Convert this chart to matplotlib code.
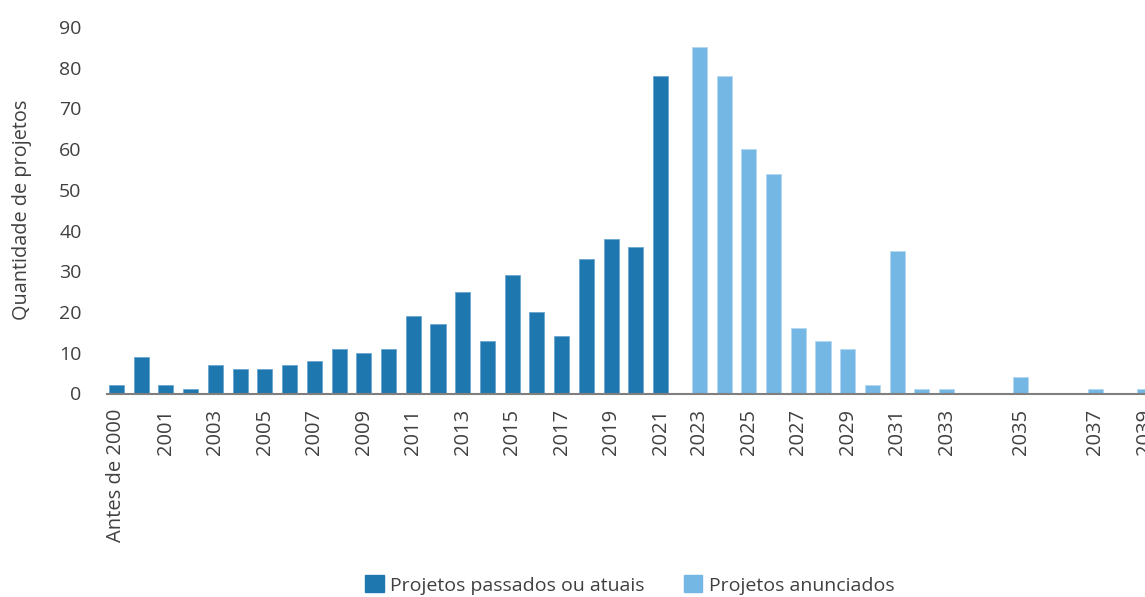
import matplotlib.pyplot as plt
from matplotlib.patches import Patch
import numpy as np

# past / current projects
past_labels = ['Antes de 2000', '2000', '2001', '2002', '2003', '2004', '2005', '2006',
               '2007', '2008', '2009', '2010', '2011', '2012', '2013', '2014', '2015',
               '2016', '2017', '2018', '2019', '2020', '2021']
past_values = [2, 9, 2, 1, 7, 6, 6, 7, 8, 11, 10, 11, 19, 17, 25, 13, 29, 20, 14, 33, 38, 36, 78]

# announced projects ('' = empty slot on the original axis)
ann_labels = ['2023', '2024', '2025', '2026', '2027', '2028', '2029', '2030', '2031',
              '2032', '2033', '2034', '', '2035', '2036', '', '2037', '2038', '2039']
ann_values = [85, 78, 60, 54, 16, 13, 11, 2, 35, 1, 1, 0, 0, 4, 0, 0, 1, 0, 1]

c_past = '#1f77b0'
c_ann = '#74b7e4'
txt = '#404040'

plt.rcParams['font.family'] = ['Open Sans', 'DejaVu Sans']

fig = plt.figure(figsize=(11.45, 5.97), dpi=100)
ax = fig.add_axes([106.6 / 1145, 1 - 393.5 / 597, 1 - 106.6 / 1145, (393.5 - 27) / 597])

gap = 1.57  # extra spacing between the two groups, in category slots
x_past = np.arange(len(past_labels))
x_ann = len(past_labels) - 1 + gap + np.arange(len(ann_labels))

ax.bar(x_past, past_values, width=0.61, color=c_past, edgecolor='#6aa6cf', linewidth=0.6)
ax.bar(x_ann, ann_values, width=0.61, color=c_ann, edgecolor='#b3d8f0', linewidth=0.6)

# tick labels: every other category, odd years
ticks = list(x_past[::2]) + [x for x, l in zip(x_ann, ann_labels) if l and int(l) % 2 == 1]
labels = list(past_labels[::2]) + [l for l in ann_labels if l and int(l) % 2 == 1]
ax.set_xticks(ticks)
ax.set_xticklabels(labels, rotation=90, fontsize=14.5, color=txt)
ax.tick_params(axis='x', length=0, pad=11)

ax.set_ylim(0, 90)
ax.set_yticks(range(0, 91, 10))
ax.tick_params(axis='y', length=0, pad=18, labelsize=14, labelcolor=txt)
ax.set_xlim(-0.4, 41.59)

for s in ['top', 'right', 'left']:
    ax.spines[s].set_visible(False)
ax.spines['bottom'].set_color('#7f7f7f')
ax.spines['bottom'].set_linewidth(1.5)

fig.text(22 / 1145, 1 - 210 / 597, 'Quantidade de projetos', rotation=90,
         ha='center', va='center', fontsize=14.3, color=txt)

handles = [Patch(color=c_past, label='Projetos passados ou atuais'),
           Patch(color=c_ann, label='Projetos anunciados')]
fig.legend(handles=handles, loc='center', bbox_to_anchor=(630 / 1145, 1 - 585 / 597),
           ncol=2, frameon=False, fontsize=14, labelcolor=txt, handlelength=0.95,
           handleheight=0.95, handletextpad=0.35, columnspacing=2.0)

fig.savefig('out.png', dpi=100)
